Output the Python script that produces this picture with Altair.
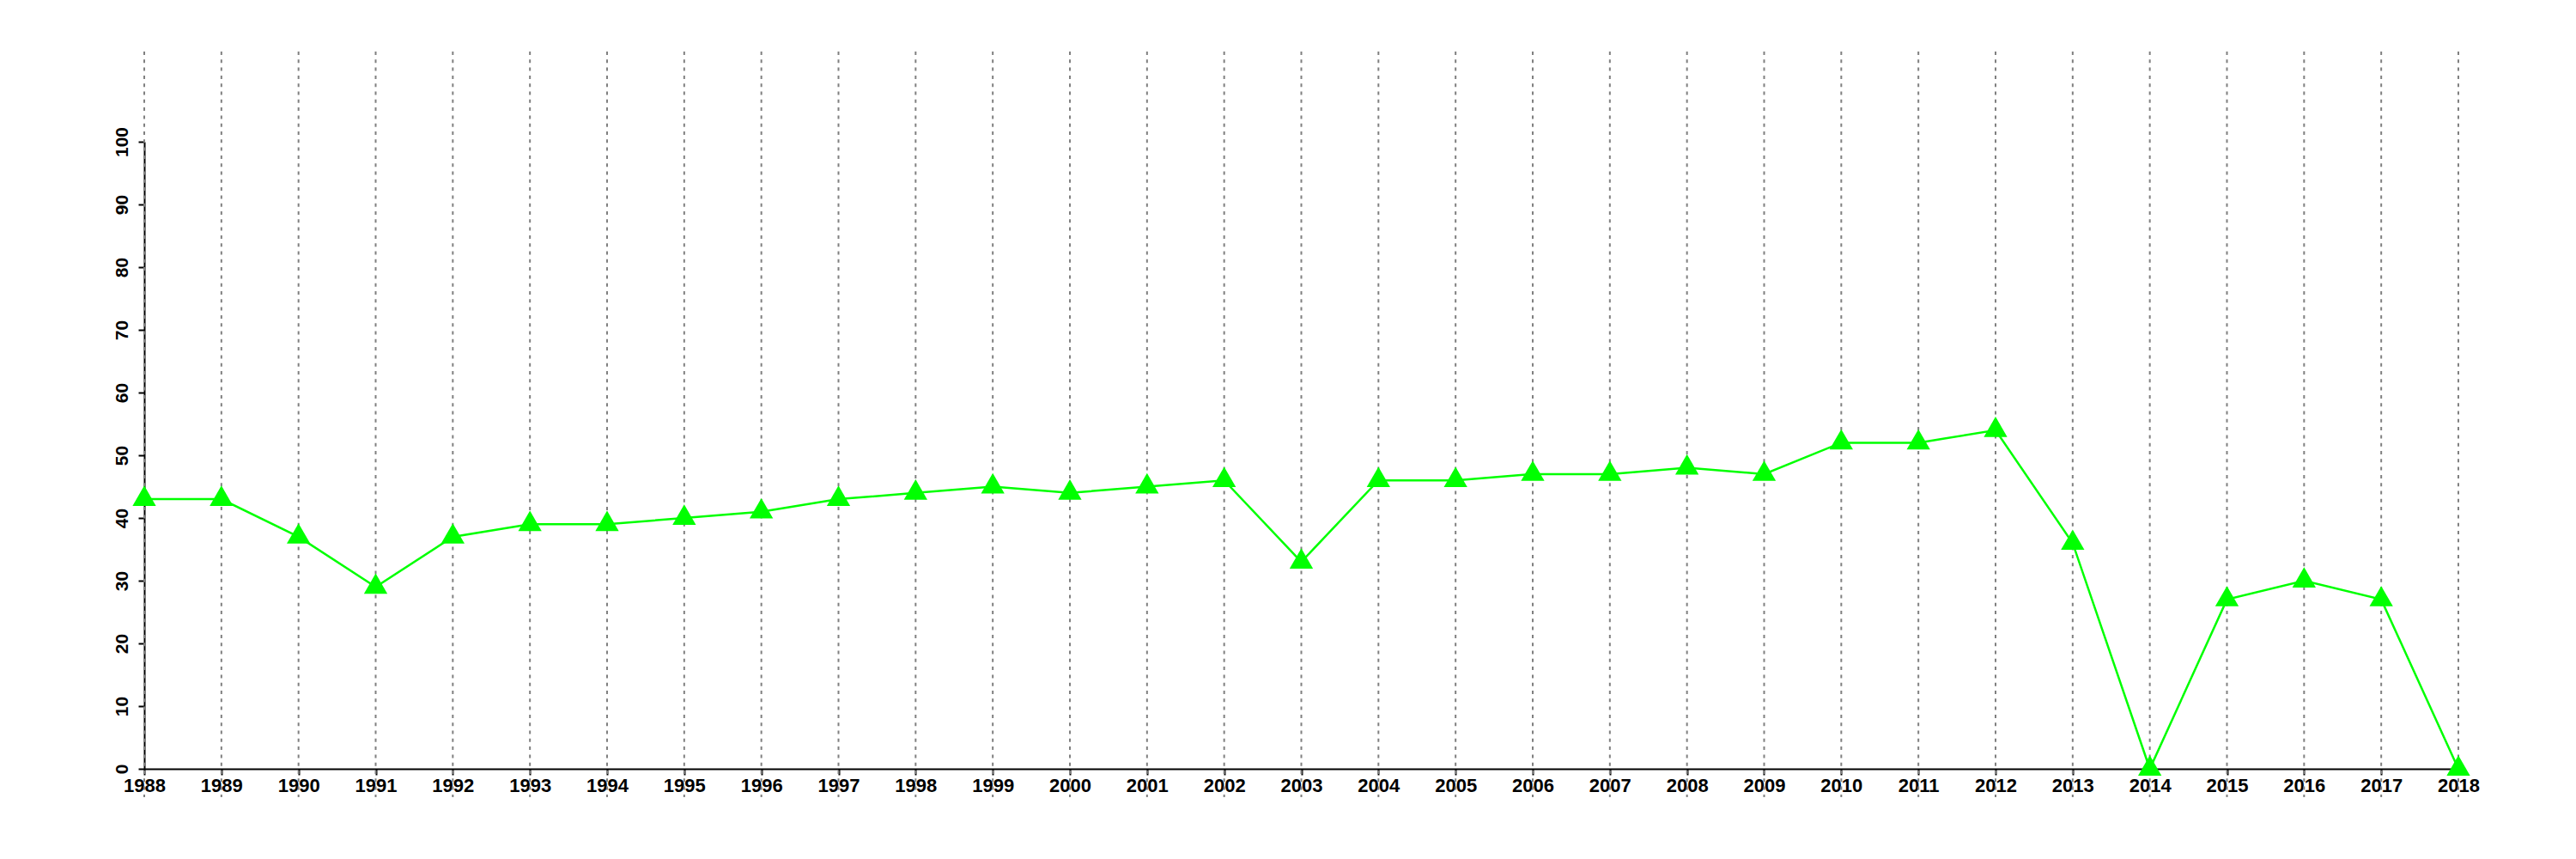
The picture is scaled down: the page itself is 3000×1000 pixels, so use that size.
import altair as alt
import pandas as pd

years = list(range(1988, 2019))
values = [43, 43, 37, 29, 37, 39, 39, 40, 41, 43, 44, 45, 44, 45, 46, 33,
          46, 46, 47, 47, 48, 47, 52, 52, 54, 36, 0, 27, 30, 27, 0]
y_ticks = list(range(0, 101, 10))

df = pd.DataFrame({"year": years, "value": values})

W, H = 2695, 730
FONT = "Liberation Sans"

x_enc = alt.X("year:Q", scale=alt.Scale(domain=[1988, 2018], nice=False, zero=False),
              axis=alt.Axis(values=years, format="d", title=None, grid=False,
                            labelFont=FONT, labelFontWeight="bold", labelFontSize=22,
                            labelColor="black", labelPadding=2, labelFlush=False,
                            labelOverlap=False, tickColor="black", tickWidth=2, tickSize=7,
                            domainColor="black", domainWidth=2))
y_enc = alt.Y("value:Q", scale=alt.Scale(domain=[0, 100], nice=False),
              axis=alt.Axis(values=y_ticks, title=None, grid=False,
                            labelFont=FONT, labelFontWeight="bold", labelFontSize=21,
                            labelColor="black", labelAngle=270, labelAlign="center",
                            labelBaseline="alphabetic", labelPadding=13,
                            tickColor="black", tickWidth=2, tickSize=7,
                            domainColor="black", domainWidth=2))

grid = alt.Chart(df).mark_rule(color="#808080", strokeWidth=2, strokeDash=[4, 5.3]).encode(
    x=x_enc,
    y=alt.value(-105),
    y2=alt.value(H + 33),
)

line = alt.Chart(df).mark_line(color="#00ff00", strokeWidth=2.5, clip=False).encode(
    x=x_enc, y=y_enc
)

tri = "M0,-1.1547 L1,0.5774 L-1,0.5774 Z"
pts = alt.Chart(df).mark_point(shape=tri, filled=True, color="#00ff00", opacity=1,
                               size=745, strokeWidth=0, clip=False).encode(
    x="year:Q", y="value:Q"
)

chart = alt.layer(grid, line, pts).properties(
    width=W, height=H,
    padding={"left": 122, "top": 51, "right": 20, "bottom": 20},
    background="white",
).configure_view(stroke=None)

chart.save("out.html", embed_options={"renderer": "svg", "actions": False})
